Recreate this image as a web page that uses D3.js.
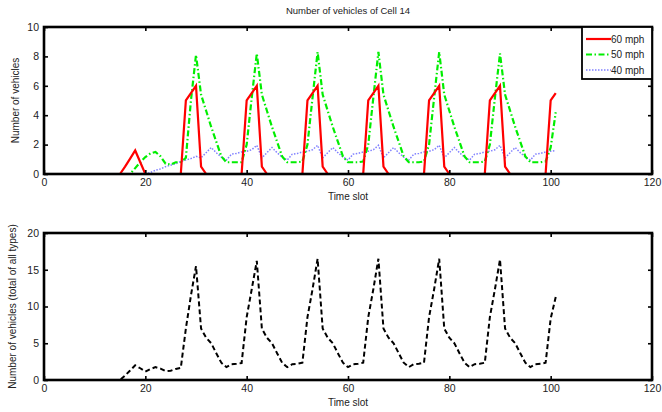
<!DOCTYPE html>
<html>
<head>
<meta charset="utf-8">
<script src="https://cdn.jsdelivr.net/npm/d3@7"></script>
<style>
  html, body { margin: 0; padding: 0; background: #fff; }
  svg { display: block; font-family: "Liberation Sans", Arial, sans-serif; }
</style>
</head>
<body>
<svg id="chart" width="662" height="412"></svg>
<script>
// ---------- data ----------
const timeSlots = d3.range(1, 102); // 1..101

const speed60 = [
  0,0,0,0,0,0,0,0,0,0, 0,0,0,0,                 // 1-14
  0,0.5,1.05,1.6,0.8,0,                         // 15-20
  0,0,0,0,0,0,0,5.0,5.5,6.0,                    // 21-30
  0.5,0,0,0,0,0,0,0,0,5.0,5.5,6.0,              // 31-42
  0.5,0,0,0,0,0,0,0,0,5.0,5.5,6.0,              // 43-54
  0.5,0,0,0,0,0,0,0,0,5.0,5.5,6.0,              // 55-66
  0.5,0,0,0,0,0,0,0,0,5.0,5.5,6.0,              // 67-78
  0.5,0,0,0,0,0,0,0,0,5.0,5.5,6.0,              // 79-90
  0.5,0,0,0,0,0,0,0,0,5.0,5.5                   // 91-101
];
const speed50 = [
  0,0,0,0,0,0,0,0,0,0, 0,0,0,0,0,0,             // 1-16
  0,0.4,0.8,1.15,1.4,1.5,1.2,0.7,0.65,0.8,0.8,1.1,5.0,8.1,  // 17-30
  5.4,4.3,3.2,2.2,1.2,0.8,0.8,0.8,0.8,2.0,5.2,8.2,          // 31-42
  5.4,4.3,3.2,2.2,1.2,0.8,0.8,0.8,0.85,2.0,5.2,8.3,         // 43-54
  5.4,4.3,3.2,2.2,1.2,0.8,0.8,0.8,0.85,2.0,5.2,8.3,         // 55-66
  5.4,4.3,3.2,2.2,1.2,0.8,0.8,0.8,0.85,2.0,5.2,8.3,         // 67-78
  5.4,4.3,3.2,2.2,1.2,0.8,0.8,0.8,0.85,2.0,5.2,8.2,         // 79-90
  5.4,4.3,3.2,2.2,1.2,0.8,0.8,0.8,0.85,1.8,4.2              // 91-101
];
const speed40 = [
  0,0,0,0,0,0,0,0,0,0, 0,0,0,0,0,0,0,0,0,       // 1-19
  0,0.1,0.25,0.35,0.5,0.6,0.7,0.85,0.95,1.05,1.2,            // 20-30
  1.1,1.45,1.8,1.45,1.15,0.95,1.35,1.4,1.5,1.55,1.65,1.95,   // 31-42
  1.1,1.45,1.8,1.45,1.15,0.95,1.35,1.4,1.5,1.55,1.65,1.95,   // 43-54
  1.1,1.45,1.8,1.45,1.15,0.95,1.35,1.4,1.5,1.55,1.65,1.95,   // 55-66
  1.1,1.45,1.8,1.45,1.15,0.95,1.35,1.4,1.5,1.55,1.65,1.95,   // 67-78
  1.1,1.45,1.8,1.45,1.15,0.95,1.35,1.4,1.5,1.55,1.65,1.95,   // 79-90
  1.1,1.45,1.8,1.45,1.15,0.95,1.35,1.4,1.5,1.55,1.6          // 91-101
];
const totalAll = [
  0,0,0,0,0,0,0,0,0,0, 0,0,0,0,                 // 1-14
  0,0.6,1.3,2.0,1.6,1.15,1.5,1.75,1.55,1.2,1.25,1.5,1.65,7.0,11.5,15.5, // 15-30
  7.0,5.75,5.0,3.65,2.35,1.75,2.15,2.2,2.3,8.55,12.35,16.2,  // 31-42
  7.0,5.75,5.0,3.65,2.35,1.75,2.15,2.2,2.35,8.55,12.35,16.5, // 43-54
  7.0,5.75,5.0,3.65,2.35,1.75,2.15,2.2,2.35,8.55,12.35,16.5, // 55-66
  7.0,5.75,5.0,3.65,2.35,1.75,2.15,2.2,2.35,8.55,12.35,16.5, // 67-78
  7.0,5.75,5.0,3.65,2.35,1.75,2.15,2.2,2.35,8.55,12.35,16.4, // 79-90
  7.0,5.75,5.0,3.65,2.35,1.75,2.15,2.2,2.35,8.35,11.3        // 91-101
];

const xTicks = [0, 20, 40, 60, 80, 100, 120];
const yTicksTop = [0, 2, 4, 6, 8, 10];
const yTicksBottom = [0, 5, 10, 15, 20];
const legendLabels = ["60 mph", "50 mph", "40 mph"];
const titleText = "Number of vehicles of Cell 14";

// ---------- drawing ----------
const svg = d3.select("#chart");
const L = 44, R = 652;

function panel(top, bottom, yMax) {
  const x = d3.scaleLinear().domain([0, 120]).range([L, R]);
  const y = d3.scaleLinear().domain([0, yMax]).range([bottom, top]);
  return { x, y, top, bottom };
}

function drawAxes(p, yTicks, xLabel, yLabel, yLabelX) {
  const g = svg.append("g");
  const tick = 4;
  const fmt = d3.format("d");
  const ab = g.append("g").attr("transform", `translate(0,${p.bottom})`)
    .call(d3.axisBottom(p.x).tickValues(xTicks).tickSizeInner(-tick).tickSizeOuter(0).tickPadding(5).tickFormat(fmt));
  const at = g.append("g").attr("transform", `translate(0,${p.top})`)
    .call(d3.axisTop(p.x).tickValues(xTicks).tickSizeInner(-tick).tickSizeOuter(0).tickFormat(""));
  const al = g.append("g").attr("transform", `translate(${L},0)`)
    .call(d3.axisLeft(p.y).tickValues(yTicks).tickSizeInner(-tick).tickSizeOuter(0).tickPadding(5).tickFormat(fmt));
  const ar = g.append("g").attr("transform", `translate(${R},0)`)
    .call(d3.axisRight(p.y).tickValues(yTicks).tickSizeInner(-tick).tickSizeOuter(0).tickFormat(""));
  [ab, at, al, ar].forEach(a => {
    a.select(".domain").remove();
    a.selectAll(".tick line").attr("stroke", "#000").attr("stroke-width", 1.6);
    a.selectAll(".tick text").attr("fill", "#222").style("font-size", "10.5px")
      .style("font-family", "'Liberation Sans', Arial, sans-serif");
  });
  g.append("rect")
    .attr("x", L).attr("y", p.top)
    .attr("width", R - L).attr("height", p.bottom - p.top)
    .attr("fill", "none").attr("stroke", "#000").attr("stroke-width", 2.6);
  g.append("text")
    .attr("x", (L + R) / 2).attr("y", p.bottom + 26)
    .attr("text-anchor", "middle").attr("fill", "#222")
    .style("font-size", "10px").text(xLabel);
  g.append("text")
    .attr("transform", `translate(${yLabelX},${(p.top + p.bottom) / 2}) rotate(-90)`)
    .attr("text-anchor", "middle").attr("fill", "#222")
    .style("font-size", "10px").text(yLabel);
}

// ---- top panel ----
const pTop = panel(27, 174, 10);
const lineTop = d3.line().x((d, i) => pTop.x(timeSlots[i])).y(d => pTop.y(d));

svg.append("path").datum(speed40).attr("d", lineTop)
  .attr("fill", "none").attr("stroke", "#8080ff").attr("stroke-width", 1.5)
  .attr("stroke-dasharray", "1.5,1.5");
svg.append("path").datum(speed50).attr("d", lineTop)
  .attr("fill", "none").attr("stroke", "#00ee00").attr("stroke-width", 2.2)
  .attr("stroke-dasharray", "6,2.5,1.5,2.5");
svg.append("path").datum(speed60).attr("d", lineTop)
  .attr("fill", "none").attr("stroke", "#ff0000").attr("stroke-width", 2.2);

drawAxes(pTop, yTicksTop, "Time slot", "Number of vehicles", 19);

svg.append("text")
  .attr("x", (L + R) / 2).attr("y", 14)
  .attr("text-anchor", "middle").attr("fill", "#222")
  .style("font-size", "9.5px").text(titleText);

// legend
const lg = svg.append("g");
lg.append("rect").attr("x", 582).attr("y", 27).attr("width", 70).attr("height", 52)
  .attr("fill", "#fff").attr("stroke", "#000").attr("stroke-width", 1.8);
const legendStyles = [
  { color: "#ff0000", dash: null, w: 2.2 },
  { color: "#00ee00", dash: "6,2.5,1.5,2.5", w: 2.2 },
  { color: "#8080ff", dash: "1.5,1.5", w: 1.5 }
];
legendLabels.forEach((lab, i) => {
  const yy = 39 + i * 15.5;
  const ln = lg.append("line").attr("x1", 586).attr("x2", 611).attr("y1", yy).attr("y2", yy)
    .attr("stroke", legendStyles[i].color).attr("stroke-width", legendStyles[i].w);
  if (legendStyles[i].dash) ln.attr("stroke-dasharray", legendStyles[i].dash);
  lg.append("text").attr("x", 611).attr("y", yy + 3.5)
    .attr("fill", "#222").style("font-size", "10px").text(lab);
});

// ---- bottom panel ----
const pBot = panel(233, 380, 20);
const lineBot = d3.line().x((d, i) => pBot.x(timeSlots[i])).y(d => pBot.y(d));
svg.append("path").datum(totalAll).attr("d", lineBot)
  .attr("fill", "none").attr("stroke", "#000").attr("stroke-width", 2)
  .attr("stroke-dasharray", "5,3");

drawAxes(pBot, yTicksBottom, "Time slot", "Number of vehicles (total of all types)", 16);
</script>
</body>
</html>
